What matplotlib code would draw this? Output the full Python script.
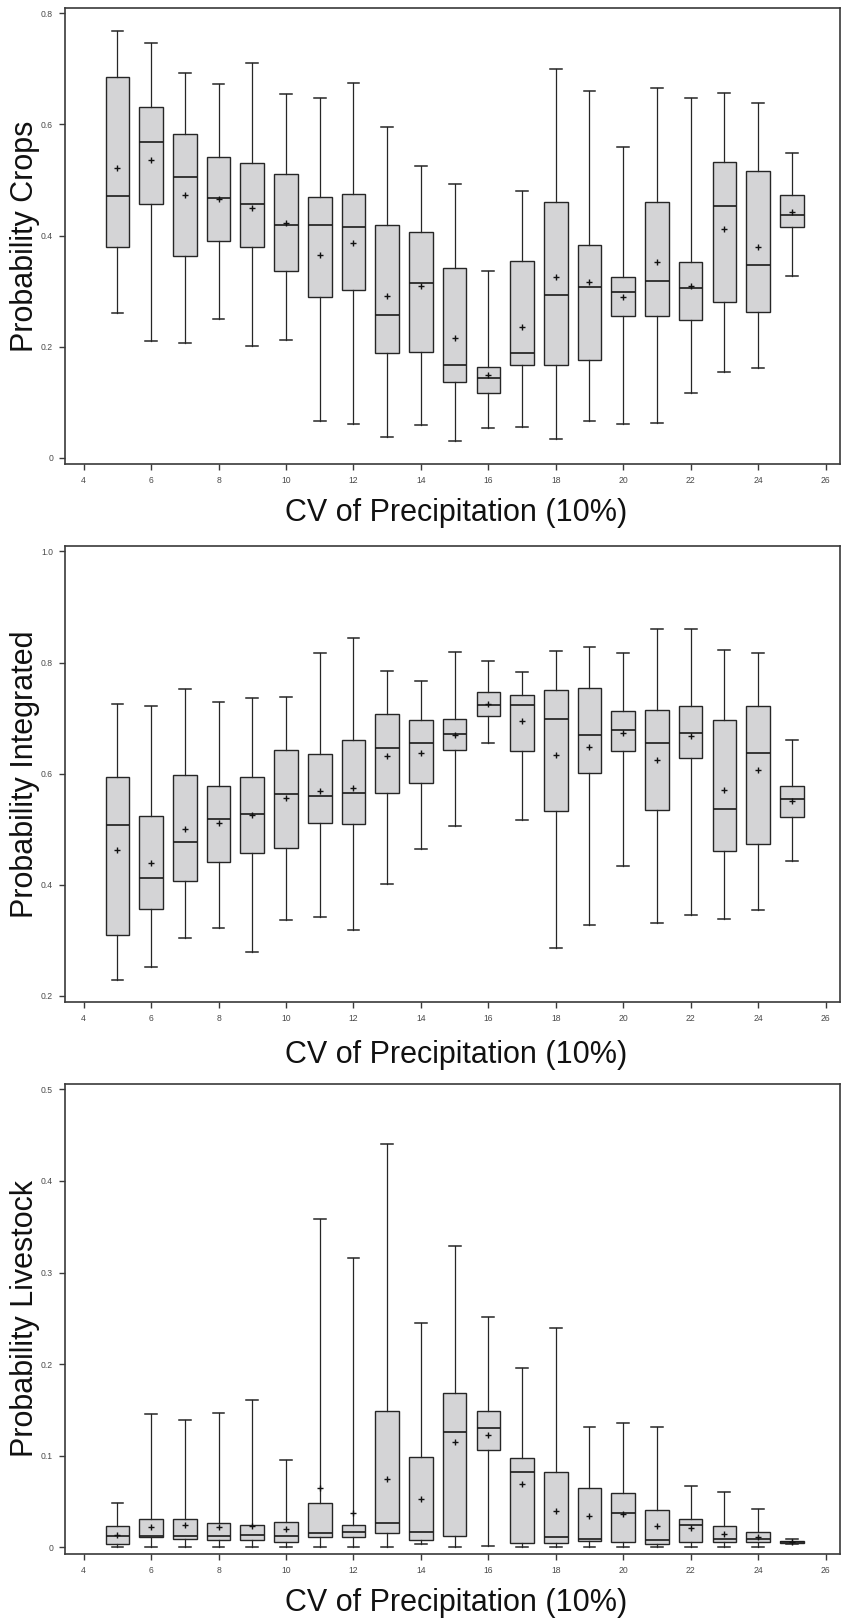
import matplotlib
matplotlib.use("Agg")
import matplotlib.pyplot as plt

plt.rcParams['font.family'] = ['Liberation Sans', 'DejaVu Sans']

cv = list(range(5, 26))

crops_whishi = [0.769, 0.746, 0.693, 0.672, 0.711, 0.655, 0.647, 0.675, 0.596, 0.526, 0.493, 0.336, 0.480, 0.700, 0.660, 0.560, 0.665, 0.648, 0.656, 0.639, 0.549]
crops_q3 = [0.686, 0.631, 0.582, 0.542, 0.531, 0.510, 0.470, 0.475, 0.419, 0.407, 0.341, 0.163, 0.354, 0.461, 0.384, 0.326, 0.460, 0.353, 0.533, 0.517, 0.473]
crops_med = [0.472, 0.569, 0.506, 0.467, 0.456, 0.420, 0.420, 0.415, 0.257, 0.314, 0.168, 0.143, 0.188, 0.293, 0.307, 0.298, 0.319, 0.305, 0.454, 0.348, 0.438]
crops_q1 = [0.380, 0.456, 0.364, 0.391, 0.379, 0.337, 0.290, 0.303, 0.188, 0.191, 0.136, 0.117, 0.168, 0.168, 0.177, 0.256, 0.256, 0.249, 0.281, 0.263, 0.415]
crops_whislo = [0.260, 0.210, 0.206, 0.250, 0.202, 0.213, 0.067, 0.062, 0.038, 0.059, 0.031, 0.054, 0.056, 0.035, 0.066, 0.061, 0.063, 0.116, 0.154, 0.162, 0.328]
crops_mean = [0.521, 0.536, 0.473, 0.466, 0.450, 0.423, 0.366, 0.386, 0.292, 0.310, 0.216, 0.150, 0.236, 0.325, 0.317, 0.289, 0.352, 0.310, 0.412, 0.380, 0.442]

integ_whishi = [0.725, 0.721, 0.753, 0.729, 0.736, 0.738, 0.818, 0.845, 0.785, 0.766, 0.819, 0.803, 0.783, 0.820, 0.828, 0.818, 0.861, 0.860, 0.823, 0.818, 0.661]
integ_q3 = [0.594, 0.524, 0.598, 0.577, 0.594, 0.643, 0.635, 0.661, 0.707, 0.697, 0.699, 0.747, 0.741, 0.750, 0.754, 0.712, 0.714, 0.722, 0.696, 0.722, 0.578]
integ_med = [0.508, 0.412, 0.477, 0.518, 0.528, 0.563, 0.559, 0.565, 0.647, 0.656, 0.671, 0.723, 0.724, 0.699, 0.669, 0.678, 0.655, 0.673, 0.537, 0.637, 0.555]
integ_q1 = [0.309, 0.357, 0.406, 0.441, 0.457, 0.467, 0.512, 0.509, 0.566, 0.584, 0.643, 0.703, 0.640, 0.533, 0.602, 0.640, 0.535, 0.628, 0.461, 0.474, 0.522]
integ_whislo = [0.228, 0.252, 0.304, 0.323, 0.279, 0.336, 0.342, 0.318, 0.402, 0.465, 0.505, 0.655, 0.517, 0.286, 0.327, 0.434, 0.332, 0.345, 0.338, 0.355, 0.443]
integ_mean = [0.462, 0.440, 0.501, 0.511, 0.526, 0.556, 0.568, 0.575, 0.632, 0.637, 0.669, 0.726, 0.694, 0.634, 0.648, 0.673, 0.624, 0.667, 0.571, 0.606, 0.550]

live_whishi = [0.048, 0.146, 0.139, 0.147, 0.161, 0.096, 0.358, 0.316, 0.440, 0.245, 0.329, 0.251, 0.196, 0.239, 0.132, 0.136, 0.131, 0.067, 0.061, 0.042, 0.009]
live_q3 = [0.023, 0.031, 0.031, 0.027, 0.025, 0.028, 0.049, 0.025, 0.149, 0.099, 0.169, 0.149, 0.098, 0.082, 0.065, 0.059, 0.041, 0.031, 0.023, 0.017, 0.007]
live_med = [0.013, 0.013, 0.013, 0.013, 0.014, 0.013, 0.016, 0.017, 0.027, 0.017, 0.126, 0.130, 0.082, 0.011, 0.009, 0.038, 0.008, 0.024, 0.009, 0.009, 0.0064]
live_q1 = [0.004, 0.011, 0.009, 0.008, 0.008, 0.006, 0.011, 0.011, 0.016, 0.008, 0.012, 0.106, 0.005, 0.0045, 0.007, 0.006, 0.004, 0.006, 0.006, 0.006, 0.0053]
live_whislo = [0.0, 0.0, 0.0, 0.001, 0.001, 0.0, 0.0, 0.001, 0.0, 0.004, 0.001, 0.002, 0.001, 0.0, 0.001, 0.0, 0.0, 0.0, 0.0, 0.0, 0.004]
live_mean = [0.014, 0.022, 0.024, 0.022, 0.023, 0.020, 0.065, 0.038, 0.075, 0.053, 0.115, 0.123, 0.069, 0.040, 0.034, 0.037, 0.023, 0.021, 0.015, 0.011, 0.0064]

x_ticks = list(range(4, 27, 2))
crops_yticks = [0, 0.2, 0.4, 0.6, 0.8]
crops_ylabels = ["0", "0.2", "0.4", "0.6", "0.8"]
integ_yticks = [0.2, 0.4, 0.6, 0.8, 1.0]
integ_ylabels = ["0.2", "0.4", "0.6", "0.8", "1.0"]
live_yticks = [0, 0.1, 0.2, 0.3, 0.4, 0.5]
live_ylabels = ["0", "0.1", "0.2", "0.3", "0.4", "0.5"]

W, H = 841, 1623
fig = plt.figure(figsize=(W / 100, H / 100), dpi=100)

panels = [
    dict(top=8.0, bottom=463.7, ylim=(-0.0103, 0.8095), yticks=crops_yticks, ylabels=crops_ylabels,
         ylabel="Probability Crops", xlab_y=512.5,
         data=(crops_whislo, crops_q1, crops_med, crops_q3, crops_whishi, crops_mean)),
    dict(top=546.2, bottom=1002.1, ylim=(0.1888, 1.0094), yticks=integ_yticks, ylabels=integ_ylabels,
         ylabel="Probability Integrated", xlab_y=1054.8,
         data=(integ_whislo, integ_q1, integ_med, integ_q3, integ_whishi, integ_mean)),
    dict(top=1084.2, bottom=1553.7, ylim=(-0.0068, 0.5056), yticks=live_yticks, ylabels=live_ylabels,
         ylabel="Probability Livestock", xlab_y=1602.8,
         data=(live_whislo, live_q1, live_med, live_q3, live_whishi, live_mean)),
]

left_px, right_px = 65.3, 840.0
spine_col = '#3a3a3a'
tick_col = '#4a4a4a'

for p in panels:
    ax = fig.add_axes([left_px / W, (H - p['bottom']) / H, (right_px - left_px) / W,
                       (p['bottom'] - p['top']) / H])
    lo, q1, med, q3, hi, mn = p['data']
    stats = []
    for i in range(len(cv)):
        stats.append(dict(whislo=lo[i], q1=q1[i], med=med[i], q3=q3[i], whishi=hi[i],
                          mean=mn[i], fliers=[]))
    ax.bxp(stats, positions=cv, widths=0.7, capwidths=0.35, patch_artist=True,
           showmeans=True, showfliers=False, manage_ticks=False,
           boxprops=dict(facecolor='#d4d4d6', edgecolor='#262626', linewidth=1.0),
           medianprops=dict(color='#1a1a1a', linewidth=1.2),
           whiskerprops=dict(color='#262626', linewidth=0.9),
           capprops=dict(color='#262626', linewidth=1.1),
           meanprops=dict(marker='+', markeredgecolor='#111111', markerfacecolor='none',
                          markersize=5, markeredgewidth=1.0))
    ax.set_xlim(3.454, 26.43)
    ax.set_ylim(*p['ylim'])
    ax.set_xticks(x_ticks)
    ax.set_xticklabels([str(t) for t in x_ticks])
    ax.set_yticks(p['yticks'])
    ax.set_yticklabels(p['ylabels'])
    ax.tick_params(axis='both', direction='out', length=4.3, width=1.0, color=spine_col,
                   labelsize=6.2, labelcolor=tick_col, pad=4.5)
    for s in ax.spines.values():
        s.set_color(spine_col)
        s.set_linewidth(1.2)
    ax.set_facecolor('white')
    # labels
    fig.text(456.0 / W, (H - p['xlab_y']) / H, "CV of Precipitation (10%)", ha='center',
             va='center', fontsize=22, color='#111111')
    fig.text(25.0 / W, (H - (p['top'] + p['bottom']) / 2) / H, p['ylabel'], ha='center',
             va='center', rotation=90, fontsize=22, color='#111111')

fig.savefig("out.png", dpi=100, facecolor='white')
